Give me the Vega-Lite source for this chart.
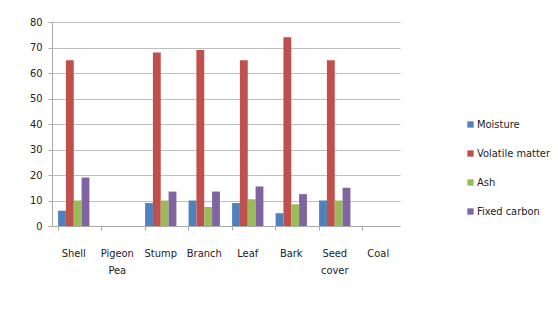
{
  "$schema": "https://vega.github.io/schema/vega-lite/v6.json",
  "width": 348,
  "height": 204,
  "autosize": {"type": "none"},
  "padding": {"left": 52, "top": 22, "right": 158, "bottom": 105},
  "background": "white",
  "data": {
    "values": [
      {"cat": "Shell", "param": "Moisture", "v": 6},
      {"cat": "Shell", "param": "Volatile matter", "v": 65},
      {"cat": "Shell", "param": "Ash", "v": 10},
      {"cat": "Shell", "param": "Fixed carbon", "v": 19},
      {"cat": "Stump", "param": "Moisture", "v": 9},
      {"cat": "Stump", "param": "Volatile matter", "v": 68},
      {"cat": "Stump", "param": "Ash", "v": 10},
      {"cat": "Stump", "param": "Fixed carbon", "v": 13.5},
      {"cat": "Branch", "param": "Moisture", "v": 10},
      {"cat": "Branch", "param": "Volatile matter", "v": 69},
      {"cat": "Branch", "param": "Ash", "v": 7.5},
      {"cat": "Branch", "param": "Fixed carbon", "v": 13.5},
      {"cat": "Leaf", "param": "Moisture", "v": 9},
      {"cat": "Leaf", "param": "Volatile matter", "v": 65},
      {"cat": "Leaf", "param": "Ash", "v": 10.5},
      {"cat": "Leaf", "param": "Fixed carbon", "v": 15.5},
      {"cat": "Bark", "param": "Moisture", "v": 5},
      {"cat": "Bark", "param": "Volatile matter", "v": 74},
      {"cat": "Bark", "param": "Ash", "v": 8.5},
      {"cat": "Bark", "param": "Fixed carbon", "v": 12.5},
      {"cat": "Seed cover", "param": "Moisture", "v": 10},
      {"cat": "Seed cover", "param": "Volatile matter", "v": 65},
      {"cat": "Seed cover", "param": "Ash", "v": 10},
      {"cat": "Seed cover", "param": "Fixed carbon", "v": 15}
    ]
  },
  "mark": {"type": "bar"},
  "encoding": {
    "x": {
      "field": "cat",
      "type": "nominal",
      "sort": null,
      "scale": {
        "domain": ["Shell", "Pigeon Pea", "Stump", "Branch", "Leaf", "Bark", "Seed cover", "Coal"],
        "paddingInner": 0.28,
        "paddingOuter": 0.14
      },
      "axis": {
        "title": null,
        "labelAngle": 0,
        "labelExpr": "split(datum.label, ' ')",
        "labelPadding": 17,
        "labelFontSize": 11,
        "labelColor": "#222222",
        "labelFont": "Liberation Sans Narrow, DejaVu Sans Condensed, sans-serif",
        "labelLineHeight": 17,
        "bandPosition": 0,
        "ticks": true,
        "tickSize": 4,
        "tickColor": "#aaaaaa",
        "domainColor": "#aaaaaa",
        "grid": false
      }
    },
    "xOffset": {
      "field": "param",
      "type": "nominal",
      "sort": ["Moisture", "Volatile matter", "Ash", "Fixed carbon"]
    },
    "y": {
      "field": "v",
      "type": "quantitative",
      "scale": {"domain": [0, 80], "nice": false},
      "axis": {
        "title": null,
        "values": [0, 10, 20, 30, 40, 50, 60, 70, 80],
        "labelFontSize": 11,
        "labelColor": "#222222",
        "labelFont": "Liberation Sans Narrow, DejaVu Sans Condensed, sans-serif",
        "labelPadding": 6,
        "tickSize": 4,
        "tickColor": "#aaaaaa",
        "domainColor": "#aaaaaa",
        "gridColor": "#bfbfbf",
        "grid": true
      }
    },
    "color": {
      "field": "param",
      "type": "nominal",
      "sort": ["Moisture", "Volatile matter", "Ash", "Fixed carbon"],
      "scale": {
        "domain": ["Moisture", "Volatile matter", "Ash", "Fixed carbon"],
        "range": ["#4F81BD", "#C0504D", "#9BBB59", "#8064A2"]
      },
      "legend": {
        "title": null,
        "orient": "none",
        "legendX": 413,
        "legendY": 97,
        "symbolType": "square",
        "symbolSize": 40,
        "labelFontSize": 11,
        "labelColor": "#222222",
        "labelFont": "Liberation Sans Narrow, DejaVu Sans Condensed, sans-serif",
        "rowPadding": 17,
        "labelOffset": 1
      }
    }
  },
  "config": {
    "view": {"stroke": null}
  }
}
